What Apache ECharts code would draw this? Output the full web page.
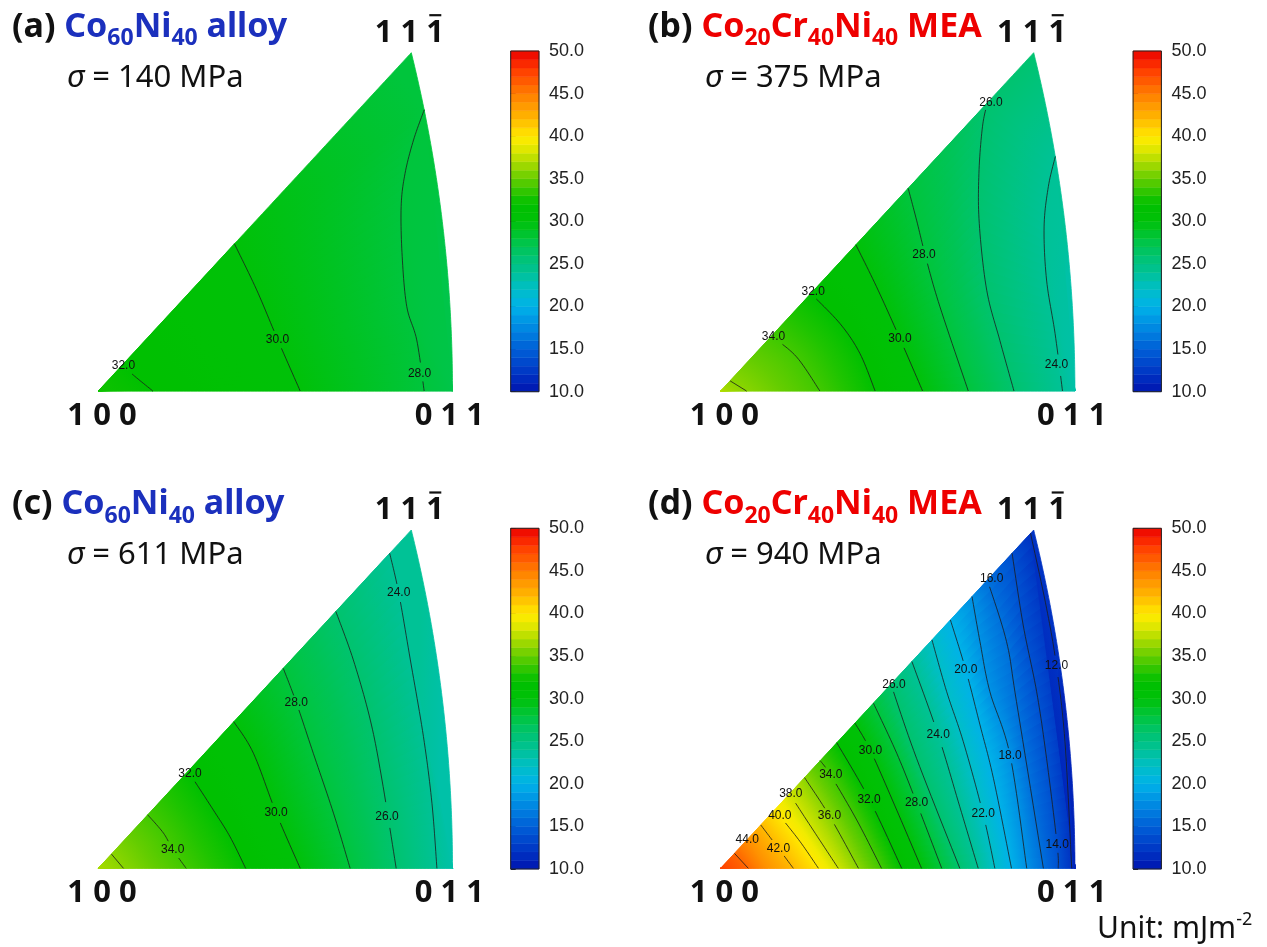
<!DOCTYPE html>
<html>
<head>
<meta charset="utf-8">
<script src="https://cdn.jsdelivr.net/npm/echarts@6/dist/echarts.min.js"></script>
<style>
  html, body { margin: 0; background: #fff; }
  #main { width: 1267px; height: 947px; }
</style>
</head>
<body>
<div id="main"></div>
<script>
// Stacking fault energy maps on the 100-011-111 triangle.
// Points are in triangle units: x from 100 (0) to 011 (1), y from the base (0) to the 111 pole (1).
// Each contour is listed from where it leaves the base up to where it meets the other edge.

// (a) Co60Ni40, 140 MPa
const levelsA = [32, 30, 28];
const linesA = [
  [[0.154, 0], [0.099, 0.047], [0.068, 0.077]],
  [[0.570, 0], [0.506, 0.153], [0.447, 0.299], [0.381, 0.435]],
  [[0.920, 0], [0.899, 0.151], [0.871, 0.249], [0.858, 0.397], [0.855, 0.545], [0.866, 0.643], [0.890, 0.742], [0.920, 0.831]]
];
const labelsA = [[0.071, 0.074], [0.506, 0.153], [0.907, 0.050]];
const endsA = [32.5, 27.5]; // at the 100 corner, beyond the last contour

// (b) Co20Cr40Ni40, 375 MPa
const levelsB = [36, 34, 32, 30, 28, 26, 24];
const linesB = [
  [[0.073, 0], [0.026, 0.030]],
  [[0.280, 0], [0.214, 0.101], [0.143, 0.162]],
  [[0.436, 0], [0.393, 0.111], [0.337, 0.199], [0.255, 0.288]],
  [[0.570, 0], [0.506, 0.155], [0.440, 0.308], [0.382, 0.432]],
  [[0.699, 0], [0.619, 0.249], [0.581, 0.387], [0.553, 0.505], [0.530, 0.599]],
  [[0.828, 0], [0.788, 0.150], [0.751, 0.298], [0.730, 0.495], [0.729, 0.643], [0.739, 0.781], [0.754, 0.852]],
  [[0.965, 0], [0.944, 0.170], [0.920, 0.328], [0.913, 0.485], [0.925, 0.604], [0.946, 0.693]]
];
const labelsB = [null, [0.149, 0.162], [0.261, 0.293], [0.506, 0.155], [0.574, 0.404], [0.763, 0.853], [0.948, 0.079]];
const endsB = [37, 23.3];

// (c) Co60Ni40, 611 MPa
const levelsC = [36, 34, 32, 30, 28, 26, 24];
const linesC = [
  [[0.071, 0], [0.038, 0.042]],
  [[0.248, 0], [0.210, 0.056], [0.184, 0.104], [0.140, 0.158]],
  [[0.416, 0], [0.372, 0.093], [0.325, 0.172], [0.253, 0.287]],
  [[0.570, 0], [0.502, 0.164], [0.438, 0.340], [0.383, 0.433]],
  [[0.711, 0], [0.664, 0.163], [0.607, 0.340], [0.559, 0.490], [0.523, 0.591]],
  [[0.841, 0], [0.801, 0.261], [0.768, 0.438], [0.720, 0.616], [0.672, 0.759]],
  [[0.956, 0], [0.942, 0.192], [0.918, 0.389], [0.881, 0.616], [0.848, 0.815], [0.823, 0.931]]
];
const labelsC = [null, [0.210, 0.056], [0.259, 0.279], [0.502, 0.164], [0.559, 0.490], [0.815, 0.153], [0.848, 0.815]];
const endsC = [36.8, 23.3];

// (d) Co20Cr40Ni40, 940 MPa
const levelsD = [46, 44, 42, 40, 38, 36, 34, 32, 30, 28, 26, 24, 22, 20, 18, 16, 14, 12];
const linesD = [
  [[0.078, 0], [0.039, 0.044]],
  [[0.130, 0], [0.075, 0.086]],
  [[0.205, 0], [0.163, 0.059], [0.113, 0.128]],
  [[0.276, 0], [0.224, 0.079], [0.167, 0.155], [0.153, 0.174]],
  [[0.332, 0], [0.261, 0.113], [0.194, 0.220]],
  [[0.389, 0], [0.307, 0.155], [0.241, 0.268]],
  [[0.454, 0], [0.384, 0.143], [0.310, 0.276], [0.281, 0.318]],
  [[0.511, 0], [0.420, 0.203], [0.327, 0.371]],
  [[0.567, 0], [0.497, 0.172], [0.423, 0.348], [0.378, 0.429]],
  [[0.624, 0], [0.553, 0.194], [0.497, 0.340], [0.430, 0.488]],
  [[0.675, 0], [0.553, 0.325], [0.482, 0.544]],
  [[0.727, 0], [0.675, 0.182], [0.614, 0.394], [0.539, 0.611]],
  [[0.774, 0], [0.741, 0.160], [0.685, 0.374], [0.638, 0.522], [0.596, 0.675]],
  [[0.821, 0], [0.770, 0.266], [0.732, 0.424], [0.692, 0.586], [0.649, 0.734]],
  [[0.864, 0], [0.817, 0.334], [0.760, 0.522], [0.732, 0.670], [0.710, 0.803]],
  [[0.911, 0], [0.835, 0.493], [0.807, 0.670], [0.753, 0.852]],
  [[0.953, 0], [0.950, 0.069], [0.920, 0.325], [0.892, 0.522], [0.854, 0.719], [0.823, 0.931]],
  [[0.991, 0], [0.972, 0.374], [0.948, 0.598], [0.920, 0.769], [0.875, 0.990]]
];
const labelsD = [null, [0.075, 0.086], [0.163, 0.059], [0.167, 0.155], [0.198, 0.220], [0.307, 0.155],
  [0.311, 0.276], [0.419, 0.202], [0.423, 0.348], [0.553, 0.194], [0.489, 0.544], [0.614, 0.394],
  [0.741, 0.160], [0.692, 0.586], [0.817, 0.334], [0.765, 0.855], [0.950, 0.069], [0.948, 0.598]];
const endsD = [47.5, 11];

const panelTags = ['(a)', '(b)', '(c)', '(d)'];
const stresses = [140, 375, 611, 940];
const poleNames = ['1 0 0', '0 1 1', '1 1 1'];
const barEdges = [10, 11, 12, 13, 14, 15, 16, 17, 18, 19, 20, 21, 22, 23, 24, 25, 26, 27, 28, 29, 30,
  31, 32, 33, 34, 35, 36, 37, 38, 39, 40, 41, 42, 43, 44, 45, 46, 47, 48, 49, 50];

// colour scale of the bars (style)
const cmapAt = [10, 12, 15, 18, 20, 22, 24, 26, 28, 30, 32, 33, 35, 37, 39, 40, 42, 45, 48, 50];
const cmapRgb = [[0, 20, 175], [0, 50, 195], [0, 95, 215], [0, 145, 228], [0, 178, 232], [0, 190, 200],
  [0, 194, 150], [0, 195, 110], [0, 197, 60], [0, 193, 8], [0, 192, 0], [30, 196, 0], [100, 205, 0],
  [175, 220, 0], [240, 235, 0], [255, 232, 0], [255, 185, 0], [255, 125, 0], [255, 55, 0], [235, 0, 0]];

function cmap(v) {
  let i = 0;
  if (v <= cmapAt[0]) return 'rgb(' + cmapRgb[0].join(',') + ')';
  while (i < cmapAt.length - 2 && v > cmapAt[i + 1]) i++;
  const t = Math.max(0, Math.min(1, (v - cmapAt[i]) / (cmapAt[i + 1] - cmapAt[i])));
  const c = cmapRgb[i].map((a, k) => Math.round(a + (cmapRgb[i + 1][k] - a) * t));
  return 'rgb(' + c.join(',') + ')';
}
function gradient(p, q, va, vb) {
  return {
    type: 'linear', x: p[0], y: p[1], x2: q[0], y2: q[1], global: true,
    colorStops: [0, 0.25, 0.5, 0.75, 1].map(t => ({ offset: t, color: cmap(va + (vb - va) * t) }))
  };
}

// triangle edges: base, 011-111 great circle, 100-111 straight edge
const X0 = Math.SQRT2 - 1, Y0 = (Math.sqrt(3) - 1) / 2;
function arcX(y) { const ys = y * Y0; return (Math.sqrt(2 - ys * ys) - 1) / X0; }
const APEX_X = arcX(1);

// s runs round the outline: 0-1 base, 1-2 arc up to 111, 2-3 back down to 100
function edgePoint(s) {
  if (s <= 1) return [s, 0];
  if (s <= 2) { const y = s - 1; return [arcX(y), y]; }
  const y = 3 - s;
  return [APEX_X * y, y];
}
function edgeWalk(from, to) {
  const pts = [];
  let s = from;
  while (true) {
    let next = Math.max(to, s - 0.01);
    if (s > 2 && next < 2) next = 2;
    else if (s > 1 && next < 1) next = 1;
    pts.push(edgePoint(next));
    s = next;
    if (s <= to) break;
  }
  return pts;
}

function snapEnds(pts) {
  const p = pts.map(q => q.slice());
  p[0] = [p[0][0], 0];
  const last = p[p.length - 1];
  const y = Math.min(last[1], 1);
  const onHyp = Math.abs(last[0] - APEX_X * y) < Math.abs(last[0] - arcX(y));
  p[p.length - 1] = [onHyp ? APEX_X * y : arcX(y), y];
  return { pts: p, s0: p[0][0], s1: onHyp ? 3 - y : 1 + y };
}

function smoothLine(pts) {
  const n = pts.length;
  if (n < 3) return pts.slice();
  const out = [];
  for (let i = 0; i < n - 1; i++) {
    const p0 = pts[Math.max(0, i - 1)], p1 = pts[i], p2 = pts[i + 1], p3 = pts[Math.min(n - 1, i + 2)];
    for (let k = 0; k < 12; k++) {
      const t = k / 12, t2 = t * t, t3 = t2 * t;
      out.push([0, 1].map(d => 0.5 * (2 * p1[d] + (-p0[d] + p2[d]) * t +
        (2 * p0[d] - 5 * p1[d] + 4 * p2[d] - p3[d]) * t2 + (-p0[d] + 3 * p1[d] - 3 * p2[d] + p3[d]) * t3)));
    }
  }
  out.push(pts[n - 1]);
  return out;
}

// even spacing along a pixel path, used to cut a band into slim strips
function resample(pix, n) {
  if (pix.length === 1) return Array.from({ length: n + 1 }, () => pix[0]);
  const d = [0];
  for (let i = 1; i < pix.length; i++) d.push(d[i - 1] + Math.hypot(pix[i][0] - pix[i - 1][0], pix[i][1] - pix[i - 1][1]));
  const total = d[d.length - 1];
  const out = [];
  let j = 0;
  for (let k = 0; k <= n; k++) {
    const target = total * k / n;
    while (j < pix.length - 2 && d[j + 1] < target) j++;
    const seg = d[j + 1] - d[j] || 1;
    const t = Math.min(1, Math.max(0, (target - d[j]) / seg));
    out.push([pix[j][0] + (pix[j + 1][0] - pix[j][0]) * t, pix[j][1] + (pix[j + 1][1] - pix[j][1]) * t]);
  }
  return out;
}

function buildPanel(levels, lines, ends) {
  const cs = levels.map((v, i) => {
    const e = snapEnds(lines[i]);
    const pts = smoothLine(e.pts);
    return { v, pts, s0: e.s0, s1: e.s1, anchor: pts[Math.floor(pts.length / 2)] };
  });
  const last = cs[cs.length - 1];
  const seq = [{ v: ends[0], pts: [[0, 0]], s0: 0, s1: 3, anchor: [0, 0] }].concat(cs,
    [{ v: ends[1], pts: [[1, 0]], s0: 1, s1: 1, anchor: edgePoint((1 + Math.min(last.s1, 2)) / 2) }]);
  const bands = [];
  for (let k = 0; k < seq.length - 1; k++) {
    const A = seq[k], B = seq[k + 1];
    const poly = A.pts.concat(edgeWalk(A.s1, B.s1), B.pts.slice().reverse(), edgeWalk(B.s0, A.s0));
    const inner = k > 0 && k < seq.length - 2;
    // between two real contours the uncovered corner sits between their upper ends
    const a = inner ? A.pts[A.pts.length - 1] : A.anchor;
    const b = inner ? B.pts[B.pts.length - 1] : B.anchor;
    bands.push({ poly, a, b, va: A.v, vb: B.v, aPts: A.pts, bPts: B.pts });
  }
  return { cs, bands };
}

const panels = [
  buildPanel(levelsA, linesA, endsA),
  buildPanel(levelsB, linesB, endsB),
  buildPanel(levelsC, linesC, endsC),
  buildPanel(levelsD, linesD, endsD)
];
const panelLabels = [labelsA, labelsB, labelsC, labelsD];
const panelLevels = [levelsA, levelsB, levelsC, levelsD];

// layout
const colLeft = [98.3, 720.7], rowTop = [52.7, 530];
const TRI_W = 354.2, TRI_H = 338.3;
const BLUE = '#1b30bd', RED = '#ee0000';
const SANS = 'Noto Sans', ARIAL = 'Liberation Sans';
const STRIPS = 28;

const grids = [], xAxes = [], yAxes = [], series = [], graphics = [];

panels.forEach((pn, i) => {
  const col = i % 2, row = Math.floor(i / 2);
  const L = colLeft[col], T = rowTop[row];
  const gi = grids.length;
  grids.push({ left: L, top: T, width: TRI_W, height: TRI_H });
  xAxes.push({ gridIndex: gi, type: 'value', min: 0, max: 1, show: false });
  yAxes.push({ gridIndex: gi, type: 'value', min: 0, max: 1, show: false });

  series.push({
    type: 'custom', coordinateSystem: 'cartesian2d', xAxisIndex: gi, yAxisIndex: gi, z: 1,
    data: pn.bands.map(b => b.va),
    renderItem: (params, api) => {
      const b = pn.bands[params.dataIndex];
      const base = gradient(api.coord(b.a), api.coord(b.b), b.va, b.vb);
      const children = [{
        type: 'polygon',
        shape: { points: b.poly.map(p => api.coord(p)) },
        style: { fill: base, stroke: base, lineWidth: 0.8 }
      }];
      const pa = resample(b.aPts.map(p => api.coord(p)), STRIPS);
      const pb = resample(b.bPts.map(p => api.coord(p)), STRIPS);
      for (let k = 0; k < STRIPS; k++) {
        const m1 = [(pa[k][0] + pa[k + 1][0]) / 2, (pa[k][1] + pa[k + 1][1]) / 2];
        const m2 = [(pb[k][0] + pb[k + 1][0]) / 2, (pb[k][1] + pb[k + 1][1]) / 2];
        if (Math.hypot(m1[0] - m2[0], m1[1] - m2[1]) < 0.5) continue;
        const g = gradient(m1, m2, b.va, b.vb);
        children.push({
          type: 'polygon', shape: { points: [pa[k], pa[k + 1], pb[k + 1], pb[k]] },
          style: { fill: g, stroke: g, lineWidth: 0.7 }
        });
      }
      return { type: 'group', children };
    }
  });

  const labs = panelLabels[i];
  series.push({
    type: 'custom', coordinateSystem: 'cartesian2d', xAxisIndex: gi, yAxisIndex: gi, z: 3,
    data: panelLevels[i].slice(),
    renderItem: (params, api) => {
      const c = pn.cs[params.dataIndex];
      const lab = labs[params.dataIndex];
      const lp = lab ? api.coord(lab) : null;
      const pix = c.pts.map(p => api.coord(p));
      const segs = [];
      let seg = [];
      pix.forEach(p => {
        if (lp && Math.abs(p[0] - lp[0]) < 14 && Math.abs(p[1] - lp[1]) < 7) {
          if (seg.length > 1) segs.push(seg);
          seg = [];
        } else seg.push(p);
      });
      if (seg.length > 1) segs.push(seg);
      const children = segs.map(s => ({
        type: 'polyline', shape: { points: s },
        style: { fill: null, stroke: '#1c1c1c', lineWidth: 0.8 }
      }));
      if (lp) {
        children.push({
          type: 'text', x: lp[0], y: lp[1],
          style: { text: c.v.toFixed(1), fill: '#111', fontSize: 12, fontFamily: ARIAL, align: 'center', verticalAlign: 'middle' }
        });
      }
      return { type: 'group', children };
    }
  });

  // colour bar
  const bi = grids.length;
  grids.push({ left: L + 412.4, top: T - 1.7, width: 28.3, height: 340.7 });
  xAxes.push({ gridIndex: bi, type: 'value', min: 0, max: 1, show: false });
  yAxes.push({
    gridIndex: bi, type: 'value', min: 10, max: 50, interval: 5, position: 'right',
    axisLine: { show: false },
    axisTick: { show: true, length: 5, lineStyle: { color: '#222', width: 1 } },
    splitLine: { show: false },
    axisLabel: { color: '#222', fontSize: 18, fontFamily: ARIAL, margin: 10, showMinLabel: true, showMaxLabel: true,
      formatter: v => v.toFixed(1) }
  });
  series.push({
    type: 'custom', coordinateSystem: 'cartesian2d', xAxisIndex: bi, yAxisIndex: bi, z: 1,
    data: barEdges.slice(0, -1),
    renderItem: (params, api) => {
      const lo = barEdges[params.dataIndex], hi = barEdges[params.dataIndex + 1];
      const p1 = api.coord([0, hi]), p2 = api.coord([1, lo]);
      const col = cmap((lo + hi) / 2);
      return {
        type: 'rect', shape: { x: p1[0], y: p1[1], width: p2[0] - p1[0], height: p2[1] - p1[1] },
        style: { fill: col, stroke: col, lineWidth: 0.5 }
      };
    }
  });
  series.push({
    type: 'custom', coordinateSystem: 'cartesian2d', xAxisIndex: bi, yAxisIndex: bi, z: 2,
    data: [0],
    renderItem: (params, api) => {
      const p1 = api.coord([0, 50]), p2 = api.coord([1, 10]);
      return {
        type: 'rect', shape: { x: p1[0], y: p1[1], width: p2[0] - p1[0], height: p2[1] - p1[1] },
        style: { fill: null, stroke: '#222', lineWidth: 1 }
      };
    }
  });

  // texts
  const isMEA = col === 1;
  const tc = isMEA ? RED : BLUE;
  const rich = {
    k: { fill: '#111', fontSize: 34, fontWeight: 'bold', fontFamily: SANS, lineHeight: 46, verticalAlign: 'middle' },
    c: { fill: tc, fontSize: 34, fontWeight: 'bold', fontFamily: SANS, lineHeight: 46, verticalAlign: 'middle' },
    s: { fill: tc, fontSize: 23, fontWeight: 'bold', fontFamily: SANS, lineHeight: 23, verticalAlign: 'bottom' }
  };
  const formula = isMEA ? '{c|Co}{s|20}{c|Cr}{s|40}{c|Ni}{s|40}{c| MEA}' : '{c|Co}{s|60}{c|Ni}{s|40}{c| alloy}';
  graphics.push({
    type: 'text', x: isMEA ? 648 : 12, y: T - 25.5,
    style: { text: '{k|' + panelTags[i] + ' }' + formula, rich, verticalAlign: 'middle', align: 'left' }
  });
  graphics.push({
    type: 'text', x: isMEA ? 705 : 67, y: T + 25.5,
    style: {
      text: '{s|\u03c3}{n| = ' + stresses[i] + ' MPa}', verticalAlign: 'middle', align: 'left',
      rich: {
        s: { fill: '#111', fontSize: 31, fontStyle: 'italic', fontFamily: SANS },
        n: { fill: '#111', fontSize: 31, fontFamily: SANS }
      }
    }
  });
  const poleStyle = { fill: '#111', fontSize: 31, fontWeight: 'bold', fontFamily: SANS, align: 'center', verticalAlign: 'middle' };
  const apexX = L + TRI_W * APEX_X - 2;
  graphics.push({ type: 'text', x: L + 3.7, y: T + 363, style: Object.assign({ text: poleNames[0] }, poleStyle) });
  graphics.push({ type: 'text', x: L + 351, y: T + 363, style: Object.assign({ text: poleNames[1] }, poleStyle) });
  graphics.push({ type: 'text', x: apexX, y: T - 20, style: Object.assign({ text: poleNames[2] }, poleStyle) });
  // bar over the last index of 1 1 -1
  graphics.push({
    type: 'line', shape: { x1: apexX + 20, y1: T - 37.5, x2: apexX + 32, y2: T - 37.5 },
    style: { stroke: '#111', lineWidth: 2.2 }
  });
});

graphics.push({
  type: 'text', x: 1097, y: 929,
  style: {
    text: '{m|Unit: mJm}{p|-2}', verticalAlign: 'middle', align: 'left',
    rich: {
      m: { fill: '#111', fontSize: 30, fontFamily: SANS, lineHeight: 36, verticalAlign: 'middle' },
      p: { fill: '#111', fontSize: 18, fontFamily: SANS, lineHeight: 30, verticalAlign: 'top' }
    }
  }
});

const chart = echarts.init(document.getElementById('main'));
chart.setOption({
  animation: false,
  backgroundColor: '#fff',
  grid: grids,
  xAxis: xAxes,
  yAxis: yAxes,
  series,
  graphic: graphics
});
</script>
</body>
</html>
